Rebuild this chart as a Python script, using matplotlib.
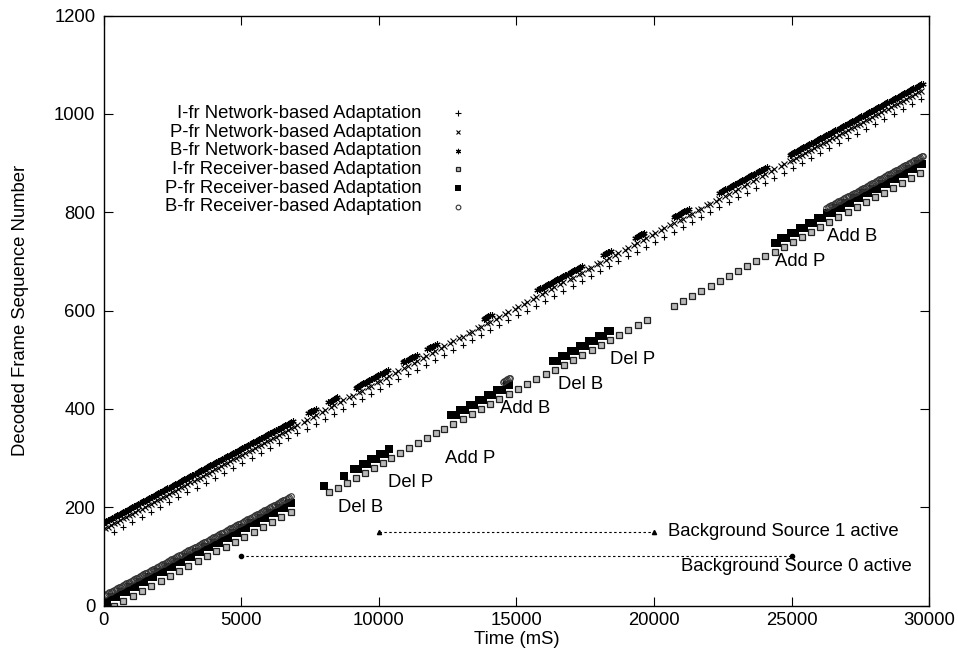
import numpy as np
import matplotlib
matplotlib.use("Agg")
import matplotlib.pyplot as plt

plt.rcParams['font.family'] = ['Liberation Sans', 'DejaVu Sans']

# ---------------- data ----------------
gop_len = 10  # sequence-number distance between I frames

# I-frame line anchors: time (ms) -> decoded frame sequence number
recv_anchor_t = [-293, 374, 6798, 8201, 12708, 16732, 19738, 20731, 26376, 29673]
recv_anchor_n = [-20, 0, 190, 230, 370, 490, 580, 610, 780, 880]
net_anchor_t = [-293, 374, 29712]
net_anchor_n = [130, 150, 1030]

# P / B frames of a GOP relative to its I frame (ms, frames)
recv_P_dt = [-80, 0, 80]
recv_P_dn = [18, 18, 18]
recv_B_dt = [0, 55, 110, 165, 220, 275]
recv_B_dn = [32, 33.6, 35.2, 36.8, 38.4, 40]
net_P_dt = [0, 111, 222]
net_P_dn = [17, 20.3, 23.6]
net_P_dt_cong = [0, 222]          # fewer P frames decoded during congestion
net_P_dn_cong = [17, 23.6]
net_B_dt = [0, 55, 110, 165, 220, 275]
net_B_dn = [30, 31.6, 33.2, 34.8, 36.4, 38]

# time spans (ms) in which each frame type is decoded
recv_I_spans = [(300, 6850), (8100, 19800), (20650, 29800)]
recv_P_spans = [(0, 6850), (9050, 10400), (12500, 14800), (16300, 18450), (24350, 29800)]
recv_P_extra_t = [8008, 8746]
recv_P_extra_n = [243, 263]
recv_B_spans = [(0, 6850), (14450, 14800), (26250, 29800)]
net_I_spans = [(300, 29800)]
net_P_spans = [(0, 6900), (24880, 29800)]
net_P_cong_spans = [(6900, 24880)]
net_B_spans = [(0, 6900), (7400, 7760), (8150, 8500), (9120, 10340), (10850, 11390),
                (11740, 12150), (13800, 14150), (15760, 17420), (18100, 18470),
                (19300, 19700), (20700, 21300), (22340, 24150), (24880, 29800)]

# annotations
annot_text = ["Del B", "Del P", "Add P", "Add B", "Del B", "Del P", "Add P", "Add B"]
annot_t = [8500, 10350, 12400, 14400, 16500, 18400, 24400, 26300]
annot_n = [200, 250, 300, 400, 450, 500, 700, 750]

# background sources
bg1_t = [10000, 20000]
bg1_n = [150, 150]
bg0_t = [5000, 25000]
bg0_n = [100, 100]
bg_labels = ["Background Source 1 active", "Background Source 0 active"]
bg_label_t = [20500, 21000]
bg_label_n = [150, 80]

legend_labels = ["I-fr Network-based Adaptation", "P-fr Network-based Adaptation",
                 "B-fr Network-based Adaptation", "I-fr Receiver-based Adaptation",
                 "P-fr Receiver-based Adaptation", "B-fr Receiver-based Adaptation"]

x_ticks = [0, 5000, 10000, 15000, 20000, 25000, 30000]
y_ticks = [0, 200, 400, 600, 800, 1000, 1200]


def gop_frames(anchor_t, anchor_n, dts, dns, spans):
    n_i = np.arange(anchor_n[0], anchor_n[-1] + 1, gop_len)
    t_i = np.interp(n_i, anchor_n, anchor_t)
    ts = (t_i[:, None] + np.asarray(dts, float)[None, :]).ravel()
    ns = (n_i[:, None] + np.asarray(dns, float)[None, :]).ravel()
    keep = np.zeros(ts.shape, bool)
    for a, b in spans:
        keep |= (ts >= a) & (ts < b)
    return ts[keep], ns[keep]


FS = 13.3
fig = plt.figure(figsize=(9.58, 6.52), dpi=100)
ax = fig.add_axes([0.1083, 0.0713, 0.8615, 0.9049])

styles = [
    dict(marker='+', ms=4.8, mew=0.8, color='black'),
    dict(marker='x', ms=3.8, mew=0.8, color='black'),
    dict(marker=(6, 2, 0), ms=4.5, mew=0.8, color='black'),
    dict(marker='s', ms=4, mew=0.9, mfc='#b8b8b8', mec='#222222'),
    dict(marker='s', ms=5.2, mew=0.0, mfc='black', mec='black'),
    dict(marker='o', ms=4, mew=0.8, mfc='none', mec='#333333'),
]

net_P = gop_frames(net_anchor_t, net_anchor_n, net_P_dt, net_P_dn, net_P_spans)
net_Pc = gop_frames(net_anchor_t, net_anchor_n, net_P_dt_cong, net_P_dn_cong, net_P_cong_spans)
series = [
    gop_frames(net_anchor_t, net_anchor_n, [0], [0], net_I_spans),
    (np.concatenate([net_P[0], net_Pc[0]]), np.concatenate([net_P[1], net_Pc[1]])),
    gop_frames(net_anchor_t, net_anchor_n, net_B_dt, net_B_dn, net_B_spans),
    gop_frames(recv_anchor_t, recv_anchor_n, [0], [0], recv_I_spans),
]
pt, pn = gop_frames(recv_anchor_t, recv_anchor_n, recv_P_dt, recv_P_dn, recv_P_spans)
series.append((np.concatenate([pt, recv_P_extra_t]), np.concatenate([pn, recv_P_extra_n])))
series.append(gop_frames(recv_anchor_t, recv_anchor_n, recv_B_dt, recv_B_dn, recv_B_spans))

for (ts, ns), st in zip(series, styles):
    ax.plot(ts, ns, linestyle='none', clip_on=True, **st)

# background source lines
ax.plot(bg1_t, bg1_n, color='black', lw=0.8, ls=(0, (2.2, 2.2)),
        marker='^', ms=3, mfc='black', mec='black')
ax.plot(bg0_t, bg0_n, color='black', lw=0.8, ls=(0, (2.2, 2.2)),
        marker='o', ms=3, mfc='black', mec='black')
for lab, t, n in zip(bg_labels, bg_label_t, bg_label_n):
    ax.text(t, n, lab, fontsize=FS, ha='left', va='center')

for lab, t, n in zip(annot_text, annot_t, annot_n):
    ax.text(t, n, lab, fontsize=FS, ha='left', va='center')

# legend (gnuplot style: right-justified text, sample on the right)
leg_y0 = 0.8342
leg_dy = 0.0317
for i, (lab, st) in enumerate(zip(legend_labels, styles)):
    y = leg_y0 - i * leg_dy
    ax.text(0.3853, y, lab, transform=ax.transAxes, fontsize=FS, ha='right', va='center')
    st_leg = dict(st)
    st_leg['ms'] = st['ms'] * 0.85
    ax.plot([0.4293], [y], transform=ax.transAxes, linestyle='none', **st_leg)

ax.set_xlim(0, 30000)
ax.set_ylim(0, 1200)
ax.set_xticks(x_ticks)
ax.set_yticks(y_ticks)
ax.tick_params(direction='in', length=6.5, width=0.8, top=True, right=True,
               labelsize=FS)
ax.tick_params(axis='x', pad=4.5)
ax.tick_params(axis='y', pad=6)
for s in ax.spines.values():
    s.set_linewidth(1.0)
ax.set_xlabel("Time (mS)", fontsize=FS, labelpad=1.5)
ax.set_ylabel("Decoded Frame Sequence Number", fontsize=FS, labelpad=18)

fig.savefig("out.png", dpi=100)
